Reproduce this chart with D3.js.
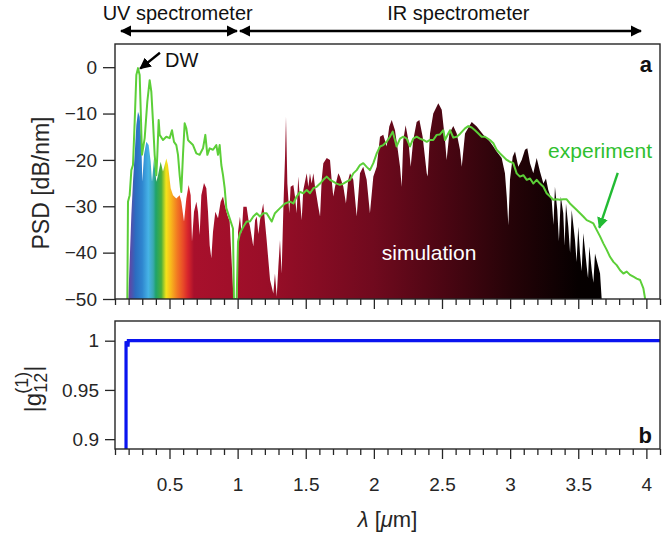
<!DOCTYPE html>
<html><head><meta charset="utf-8">
<script src="https://cdn.jsdelivr.net/npm/d3@7/dist/d3.min.js"></script>
<style>
body{margin:0;background:#fff;}
svg{display:block;font-family:"Liberation Sans",Arial,Helvetica,sans-serif;}
</style></head><body>
<svg id="chart" width="664" height="533"></svg>
<script>
// ---------- data ----------
const simWl = [0.198,0.2003,0.2077,0.220,0.232,0.2444,0.2566,0.2688,0.281,0.2933,0.3006,0.3128,0.330,0.347,0.3618,0.3716,0.3862,0.4034,0.4156,0.4352,0.4523,0.4767,0.489,0.5086,0.5257,0.550,0.5746,0.5868,0.6064,0.6235,0.6407,0.6554,0.6651,0.6798,0.697,0.7092,0.7214,0.7336,0.7532,0.7703,0.7826,0.7948,0.807,0.8193,0.8364,0.856,0.8756,0.8927,0.905,0.9245,0.9416,0.9538,0.966,0.970,0.998,1.003,1.017,1.030,1.042,1.066,1.080,1.091,1.115,1.128,1.140,1.152,1.164,1.188,1.213,1.238,1.262,1.274,1.287,1.299,1.311,1.323,1.336,1.348,1.355,1.365,1.379,1.389,1.409,1.421,1.433,1.445,1.458,1.470,1.482,1.507,1.519,1.531,1.543,1.556,1.568,1.580,1.592,1.605,1.617,1.629,1.654,1.678,1.690,1.702,1.715,1.739,1.751,1.776,1.795,1.812,1.825,1.849,1.874,1.898,1.922,1.947,1.971,1.996,2.021,2.045,2.069,2.094,2.113,2.131,2.155,2.172,2.192,2.204,2.216,2.233,2.253,2.270,2.289,2.314,2.334,2.358,2.388,2.395,2.412,2.436,2.473,2.498,2.522,2.534,2.554,2.583,2.608,2.632,2.645,2.669,2.718,2.755,2.803,2.852,2.877,2.901,2.938,2.962,2.975,2.987,2.999,3.019,3.036,3.060,3.085,3.109,3.126,3.146,3.170,3.195,3.219,3.244,3.263,3.280,3.305,3.318,3.329,3.346,3.358,3.372,3.390,3.400,3.410,3.427,3.440,3.452,3.476,3.488,3.500,3.513,3.525,3.537,3.562,3.572,3.581,3.599,3.611,3.623,3.647,3.660,3.672];
const simDb = [-50,-47.7,-41.9,-31.9,-24.7,-18.9,-12.5,-9.6,-10.7,-16.1,-24.7,-18.9,-16.1,-16.8,-20.4,-24.7,-19.7,-24.7,-23.3,-20.4,-22.5,-19.7,-21.1,-26.1,-27.6,-28.3,-27.6,-29.0,-33.3,-28.3,-25.4,-27.6,-37.6,-31.2,-29.0,-31.2,-36.2,-27.6,-25.0,-26.1,-31.2,-38.4,-41.2,-35.5,-31.2,-32.6,-29.0,-27.9,-29.7,-31.9,-33.3,-40.5,-47.7,-50,-50,-35.5,-32.2,-36.0,-30.1,-30.1,-33.0,-34.4,-38.7,-33.0,-32.2,-36.0,-33.0,-29.4,-37.3,-45.9,-48.8,-44.5,-49.5,-43.0,-37.3,-44.5,-30.1,-19.3,-10.7,-25.1,-31.5,-25.8,-25.4,-27.9,-31.5,-23.6,-28.6,-33.0,-26.5,-22.9,-25.8,-22.9,-25.1,-22.9,-25.8,-27.9,-30.1,-32.2,-24.3,-20.7,-19.6,-20.0,-24.3,-27.9,-25.8,-22.9,-23.6,-25.8,-29.4,-24.3,-22.9,-24.3,-32.2,-22.9,-21.5,-24.3,-31.5,-23.6,-21.5,-15.0,-14.6,-17.1,-12.8,-11.4,-13.6,-17.1,-21.5,-25.8,-15.7,-12.5,-15.7,-21.5,-15.7,-11.8,-11.4,-15.0,-22.9,-23.6,-14.3,-10.0,-7.8,-9.2,-15.7,-20.0,-14.3,-12.7,-14.3,-17.8,-21.5,-14.3,-11.8,-12.8,-14.6,-16.1,-17.1,-18.2,-19.6,-22.9,-27.9,-34.1,-24.3,-19.3,-18.2,-21.5,-20.0,-17.8,-17.5,-20.7,-22.9,-19.6,-22.5,-25.1,-24.0,-26.5,-28.6,-34.0,-25.8,-30.8,-37.5,-27.9,-31.5,-38.5,-29.4,-34.4,-40.0,-30.8,-37.3,-42.0,-34.4,-40.2,-44.0,-35.8,-43.0,-45.5,-38.7,-43.8,-46.5,-40.2,-43.0,-44.5,-50];

const expWl = [0.1905,0.1954,0.2077,0.220,0.232,0.2444,0.2566,0.2688,0.281,0.2884,0.298,0.3178,0.3373,0.3545,0.3667,0.3789,0.3911,0.4034,0.4107,0.4205,0.4278,0.4523,0.4767,0.5012,0.5183,0.533,0.550,0.5624,0.5746,0.5868,0.599,0.6113,0.6235,0.6358,0.648,0.6725,0.697,0.7214,0.7459,0.763,0.7777,0.7948,0.8193,0.8437,0.856,0.8682,0.8804,0.8927,0.905,0.917,0.9416,0.966,0.973,0.993,1.003,1.017,1.042,1.066,1.091,1.115,1.140,1.164,1.188,1.213,1.250,1.274,1.311,1.348,1.384,1.409,1.433,1.458,1.482,1.507,1.531,1.556,1.580,1.605,1.629,1.654,1.678,1.702,1.727,1.751,1.776,1.800,1.825,1.849,1.874,1.898,1.922,1.947,1.971,1.996,2.021,2.045,2.069,2.094,2.118,2.138,2.155,2.167,2.192,2.216,2.241,2.265,2.289,2.314,2.338,2.363,2.388,2.412,2.436,2.461,2.485,2.510,2.522,2.546,2.559,2.583,2.608,2.632,2.669,2.693,2.718,2.742,2.767,2.791,2.816,2.852,2.877,2.901,2.926,2.950,2.975,2.999,3.023,3.048,3.072,3.097,3.122,3.146,3.170,3.195,3.219,3.244,3.268,3.293,3.317,3.342,3.366,3.390,3.415,3.439,3.464,3.489,3.513,3.537,3.562,3.586,3.611,3.635,3.660,3.684,3.709,3.733,3.758,3.782,3.807,3.831,3.856,3.880,3.905,3.929,3.954,3.978,3.991];
const expDb = [-50,-29.0,-27.6,-22.2,-21.1,-11.8,-1.7,-0.2,-1.7,-8.9,-18.9,-15.3,-7.4,-2.8,-5.3,-11.8,-18.9,-23.3,-18.9,-11.4,-14.6,-15.7,-15.0,-15.3,-13.6,-16.1,-16.8,-18.9,-23.3,-26.9,-18.9,-12.1,-13.2,-15.7,-16.1,-16.8,-18.6,-18.9,-17.5,-14.6,-18.9,-17.5,-17.8,-16.8,-18.9,-16.8,-21.1,-23.3,-26.1,-30.4,-32.6,-34.8,-50,-50,-37.6,-35.8,-34.4,-33.3,-33.3,-32.2,-31.5,-32.2,-31.5,-31.5,-33.3,-31.5,-30.4,-29.4,-29.0,-29.4,-27.9,-26.9,-27.2,-26.5,-27.2,-26.1,-25.8,-25.1,-24.3,-23.6,-24.3,-24.7,-25.1,-25.4,-25.1,-24.7,-24.3,-22.9,-22.2,-21.1,-20.7,-21.5,-22.2,-20.7,-18.6,-17.1,-16.8,-16.1,-15.0,-13.9,-15.7,-17.1,-15.4,-15.0,-15.4,-17.1,-15.4,-15.0,-15.4,-15.7,-16.1,-15.7,-15.7,-14.6,-14.5,-13.6,-15.7,-14.3,-13.6,-15.2,-15.0,-14.4,-13.2,-12.7,-13.0,-13.6,-14.3,-15.0,-15.0,-15.7,-16.4,-17.8,-18.6,-19.3,-20.0,-20.4,-20.7,-22.9,-23.6,-23.3,-24.3,-24.0,-25.1,-24.3,-25.1,-25.8,-27.2,-27.9,-28.6,-28.5,-28.6,-28.5,-28.5,-29.4,-30.1,-30.8,-31.5,-32.2,-33.0,-33.3,-33.7,-35.1,-36.5,-38.0,-39.4,-40.9,-42.0,-42.7,-43.8,-44.5,-44.1,-44.8,-45.2,-45.6,-45.9,-47.7,-50];

const cohWl  = [0.181, 0.181, 0.188, 0.196, 0.198, 4.1];
const cohVal = [0.85, 0.9995, 0.9955, 0.9955, 1.0, 1.0];

const xMajorTicks = [0.5,1,1.5,2,2.5,3,3.5,4];
const xTickLabels = ["0.5","1","1.5","2","2.5","3","3.5","4"];
const xMinorTicks = [0.1,0.2,0.3,0.4,0.6,0.7,0.8,0.9,1.1,1.2,1.3,1.4,1.6,1.7,1.8,1.9,2.1,2.2,2.3,2.4,2.6,2.7,2.8,2.9,3.1,3.2,3.3,3.4,3.6,3.7,3.8,3.9,4.1];
const yATicks = [0,-10,-20,-30,-40,-50];
const yBTicks = [1,0.95,0.9];
const yBLabels = ["1","0.95","0.9"];

// spectral colour stops (wavelength in µm -> colour)
const gradWl  = [0.198,0.225,0.25,0.30,0.345,0.38,0.40,0.44,0.475,0.51,0.555,0.60,0.635,0.68,1.2,2.0,2.5,3.0,3.5,4.1];
const gradCol = ["#6b3fa0","#4a55b0","#2c6cc0","#2f86cf","#46b3e6","#3aa9b0","#1fa36a","#4caf3a","#f4e31a","#f8b81c","#f27a22","#e84a28","#d7242c","#a8102c","#9a0e28","#700a1e","#4c0613","#260308","#060000","#000000"];

// ---------- layout ----------
const svg = d3.select("#chart");
const L = 115, R = 660;
const x = d3.scaleLinear().domain([0.1, 4.1]).range([L, R]);
const yA = d3.scaleLinear().domain([-50, 5]).range([299, 44]);
const yB = d3.scaleLinear().domain([0.89, 1.02]).range([449, 321]);
const axisCol = "#262626";

const defs = svg.append("defs");
const grad = defs.append("linearGradient").attr("id","spec")
  .attr("gradientUnits","userSpaceOnUse")
  .attr("x1", x(0.1)).attr("x2", x(4.1)).attr("y1",0).attr("y2",0);
gradWl.forEach((w,i)=>grad.append("stop").attr("offset",(w-0.1)/4).attr("stop-color",gradCol[i]));
defs.append("clipPath").attr("id","clipA").append("rect")
  .attr("x",L).attr("y",yA(5)).attr("width",R-L).attr("height",yA(-50)-yA(5));
defs.append("clipPath").attr("id","clipB").append("rect")
  .attr("x",L).attr("y",yB(1.02)).attr("width",R-L).attr("height",yB(0.89)-yB(1.02));
function marker(id,color,sz){
  defs.append("marker").attr("id",id).attr("viewBox","0 0 10 10").attr("refX",9).attr("refY",5)
    .attr("markerWidth",sz).attr("markerHeight",sz).attr("orient","auto-start-reverse")
    .attr("markerUnits","strokeWidth")
    .append("path").attr("d","M0,0 L10,5 L0,10 z").attr("fill",color);
}
marker("ah","#000",4.8); marker("ahg","#22bb33",4.6);

// ---------- panel a ----------
const simData = simWl.map((w,i)=>({w, v: simDb[i]}));
const expData = expWl.map((w,i)=>({w, v: expDb[i]}));
const gA = svg.append("g").attr("clip-path","url(#clipA)");
gA.append("path").datum(simData)
  .attr("d", d3.area().x(d=>x(d.w)).y0(yA(-50)).y1(d=>yA(d.v)))
  .attr("fill","url(#spec)");
gA.append("path").datum(expData)
  .attr("d", d3.line().x(d=>x(d.w)).y(d=>yA(d.v)))
  .attr("fill","none").attr("stroke","#5ccf38").attr("stroke-width",2).attr("stroke-linejoin","round");

// ---------- panel b ----------
const cohData = cohWl.map((w,i)=>({w, v: cohVal[i]}));
svg.append("g").attr("clip-path","url(#clipB)").append("path").datum(cohData)
  .attr("d", d3.line().x(d=>x(d.w)).y(d=>yB(d.v)))
  .attr("fill","none").attr("stroke","#0a14f0").attr("stroke-width",3.2);

// ---------- axes ----------
function styleAxis(g, fs){
  g.selectAll(".domain").remove();
  g.selectAll("line").attr("stroke",axisCol).attr("stroke-width",1.3);
  g.selectAll("text").attr("fill","#262626").attr("font-size",fs)
    .attr("font-family","'Liberation Sans',Arial,sans-serif");
}
styleAxis(svg.append("g").attr("transform",`translate(0,${yA(-50)})`)
  .call(d3.axisBottom(x).tickValues(xMajorTicks).tickSize(10).tickFormat("")),18);
styleAxis(svg.append("g").attr("transform",`translate(0,${yA(-50)})`)
  .call(d3.axisBottom(x).tickValues(xMinorTicks).tickSize(6).tickFormat("")),18);
styleAxis(svg.append("g").attr("transform",`translate(0,${yB(0.89)})`)
  .call(d3.axisBottom(x).tickValues(xMajorTicks).tickSize(10).tickPadding(19)
    .tickFormat((d,i)=>xTickLabels[i])),19);
styleAxis(svg.append("g").attr("transform",`translate(0,${yB(0.89)})`)
  .call(d3.axisBottom(x).tickValues(xMinorTicks).tickSize(6).tickFormat("")),18);
styleAxis(svg.append("g").attr("transform",`translate(${L},0)`)
  .call(d3.axisLeft(yA).tickValues(yATicks).tickSize(12).tickPadding(6).tickFormat(d3.format("d"))),19);
styleAxis(svg.append("g").attr("transform",`translate(${L},0)`)
  .call(d3.axisLeft(yB).tickValues(yBTicks).tickSize(10).tickPadding(6).tickFormat((d,i)=>yBLabels[i])),19);

svg.append("rect").attr("x",L).attr("y",yA(5)).attr("width",R-L).attr("height",yA(-50)-yA(5))
  .attr("fill","none").attr("stroke",axisCol).attr("stroke-width",1.4);
svg.append("rect").attr("x",L).attr("y",yB(1.02)).attr("width",R-L).attr("height",yB(0.89)-yB(1.02))
  .attr("fill","none").attr("stroke",axisCol).attr("stroke-width",1.4);

// ---------- labels ----------
svg.append("text").attr("transform",`translate(49,183) rotate(-90)`)
  .attr("text-anchor","middle").attr("font-size",23).attr("fill","#262626").text("PSD [dB/nm]");
const gl = svg.append("text").attr("transform",`translate(41,${(yB(1.02)+yB(0.89))/2+4}) rotate(-90)`)
  .attr("text-anchor","middle").attr("font-size",24).attr("fill","#262626");
gl.append("tspan").text("|g");
gl.append("tspan").attr("font-size",18).attr("dy",6).text("12");
gl.append("tspan").attr("font-size",18).attr("dx",-21).attr("dy",-19).text("(1)");
gl.append("tspan").attr("dy",13).text("|");

const xl = svg.append("text").attr("x",(L+R)/2).attr("y",527).attr("text-anchor","middle")
  .attr("font-size",22).attr("fill","#262626");
xl.append("tspan").attr("font-style","italic").text("λ");
xl.append("tspan").text(" [");
xl.append("tspan").attr("font-style","italic").text("μ");
xl.append("tspan").text("m]");

svg.append("text").attr("x",R-8).attr("y",yA(5)+28).attr("text-anchor","end")
  .attr("font-size",22).attr("font-weight","bold").attr("fill","#111").text("a");
svg.append("text").attr("x",R-8).attr("y",yB(0.89)-6).attr("text-anchor","end")
  .attr("font-size",22).attr("font-weight","bold").attr("fill","#111").text("b");

svg.append("text").attr("x",x(3.66)).attr("y",yA(-19.5)).attr("text-anchor","middle")
  .attr("font-size",21).attr("fill","#2fbf2f").text("experiment");
svg.append("line").attr("x1",x(3.79)).attr("y1",yA(-22.8)).attr("x2",x(3.655)).attr("y2",yA(-34.6))
  .attr("stroke","#22bb33").attr("stroke-width",2.4).attr("marker-end","url(#ahg)");

svg.append("text").attr("x",x(2.405)).attr("y",yA(-41.5)).attr("text-anchor","middle")
  .attr("font-size",21).attr("fill","#fff").text("simulation");

svg.append("text").attr("x",x(0.467)).attr("y",yA(0.0)).attr("text-anchor","start")
  .attr("font-size",20).attr("fill","#111").text("DW");
svg.append("line").attr("x1",x(0.43)).attr("y1",yA(3.1)).attr("x2",x(0.285)).attr("y2",yA(-0.3))
  .attr("stroke","#000").attr("stroke-width",2.4).attr("marker-end","url(#ah)");

svg.append("line").attr("x1",x(0.144)).attr("x2",x(0.995)).attr("y1",31).attr("y2",31)
  .attr("stroke","#000").attr("stroke-width",2.4)
  .attr("marker-start","url(#ah)").attr("marker-end","url(#ah)");
svg.append("line").attr("x1",x(1.017)).attr("x2",x(3.96)).attr("y1",31).attr("y2",31)
  .attr("stroke","#000").attr("stroke-width",2.4)
  .attr("marker-start","url(#ah)").attr("marker-end","url(#ah)");
svg.append("text").attr("x",x(0.56)).attr("y",20).attr("text-anchor","middle")
  .attr("font-size",20).attr("fill","#111").text("UV spectrometer");
svg.append("text").attr("x",x(2.62)).attr("y",20).attr("text-anchor","middle")
  .attr("font-size",20).attr("fill","#111").text("IR spectrometer");
</script>
</body></html>
